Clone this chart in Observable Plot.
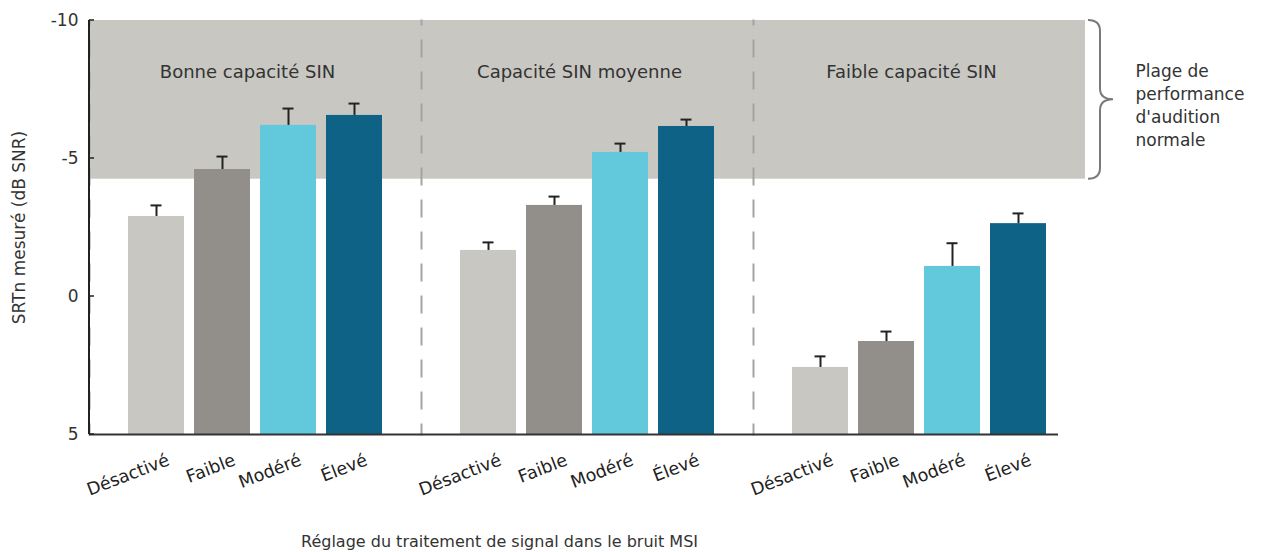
<!DOCTYPE html>
<html><head><meta charset="utf-8">
<script src="https://cdn.jsdelivr.net/npm/d3@7"></script>
<script src="https://cdn.jsdelivr.net/npm/@observablehq/plot@0.6"></script>
<style>body{margin:0;background:#fff}</style>
</head><body><div id="chart"></div>
<script>
const groups = ["Bonne capacité SIN", "Capacité SIN moyenne", "Faible capacité SIN"];
const settings = ["Désactivé", "Faible", "Modéré", "Élevé"];
const settingColors = ["#c8c7c2", "#928e8a", "#62c9dc", "#0e6285"];
const bonneValues = [-2.90, -4.60, -6.20, -6.56];
const bonneErrors = [0.40, 0.47, 0.61, 0.43];
const moyenneValues = [-1.67, -3.30, -5.22, -6.16];
const moyenneErrors = [0.29, 0.32, 0.32, 0.25];
const faibleValues = [2.57, 1.63, -1.09, -2.64];
const faibleErrors = [0.40, 0.36, 0.84, 0.37];
const normalBand = [-10, -4.25];
const yTicks = [-10, -5, 0, 5];
const yTitle = "SRTn mesuré (dB SNR)";
const xTitle = "Réglage du traitement de signal dans le bruit MSI";
const bandLabel = "Plage de\nperformance\nd'audition\nnormale";

const FONT = "'DejaVu Sans', sans-serif";
const allValues = [bonneValues, moyenneValues, faibleValues];
const allErrors = [bonneErrors, moyenneErrors, faibleErrors];
const data = [];
groups.forEach((g, gi) => settings.forEach((s, si) => data.push({group: g, setting: s, value: allValues[gi][si], err: allErrors[gi][si]})));

const chart = Plot.plot({
  width: 1263, height: 552,
  marginLeft: 89, marginRight: 178, marginTop: 20, marginBottom: 118,
  style: {fontFamily: FONT, fontSize: "15px", color: "#333", background: "#fff", overflow: "visible"},
  fx: {domain: groups, padding: 0, axis: null, label: null},
  x: {domain: settings, paddingInner: 0.15, paddingOuter: 0.59, label: null},
  y: {domain: [5, -10], label: null},
  color: {domain: settings, range: settingColors},
  marks: [
    Plot.rect([normalBand], {y1: d => d[0], y2: d => d[1], fill: "#c8c7c2"}),
    Plot.frame({anchor: "left", stroke: "#a4a4a4", strokeWidth: 2, strokeDasharray: "16,16", strokeDashoffset: 12}),
    Plot.barY(data, {fx: "group", x: "setting", y1: 5, y2: "value", fill: "setting"}),
    Plot.ruleX(data, {fx: "group", x: "setting", y1: "value", y2: d => d.value - d.err, stroke: "#222", strokeWidth: 2}),
    Plot.tickY(data, {fx: "group", x: "setting", y: d => d.value - d.err, stroke: "#222", strokeWidth: 2, insetLeft: 22.5, insetRight: 22.5}),
    Plot.ruleY(groups.slice(0, 2), {fx: d => d, y: () => 5, stroke: "#333", strokeWidth: 2}),
    Plot.ruleY(groups.slice(2), {fx: d => d, y: () => 5, stroke: "#333", strokeWidth: 2, insetRight: 27}),
    // y axis line with inward ticks (first facet only)
    Plot.ruleY(yTicks, {fx: () => groups[0], render: (index, scales, values, dims) => {
      const g = d3.create("svg:g").attr("stroke", "#222").attr("stroke-width", 2);
      const x = dims.marginLeft;
      g.append("line").attr("x1", x).attr("x2", x).attr("y1", dims.marginTop).attr("y2", dims.height - dims.marginBottom);
      for (const t of yTicks) g.append("line").attr("x1", x).attr("x2", x + 5).attr("y1", scales.y(t)).attr("y2", scales.y(t)).attr("stroke-width", 1.5);
      return g.node();
    }}),
    Plot.axisY({ticks: yTicks, tickFormat: d => String(d), tickSize: 0, tickPadding: 11, label: null, fontFamily: FONT, fontSize: 17, fill: "#333"}),
    Plot.axisX({tickRotate: -21, tickSize: 0, tickPadding: 0, textAnchor: "end", lineAnchor: "middle", dx: 12, dy: 25, fontFamily: FONT, fontSize: 17.5, fill: "#222", label: null}),
    Plot.text(groups, {fx: d => d, text: d => d, frameAnchor: "top", lineAnchor: "middle", dy: 52, dx: -8, fontSize: 18, fontFamily: FONT, fill: "#333"}),
    Plot.text([bandLabel], {fx: [groups[2]], y: [(normalBand[0] + normalBand[1]) / 2], text: d => d, frameAnchor: "right", textAnchor: "start", dx: 50, dy: 4, lineHeight: 1.35, fontSize: 17, fontFamily: FONT, fill: "#333"}),
    Plot.ruleY(normalBand, {fx: () => groups[2], render: (index, scales, values, dims) => {
      const top = scales.y(normalBand[0]), bot = scales.y(normalBand[1]), mid = (top + bot) / 2;
      const x0 = dims.width - dims.marginRight + 3, xv = x0 + 12, xt = x0 + 25, r = 11;
      const p = `M${x0},${top} Q${xv},${top} ${xv},${top + r} L${xv},${mid - r} Q${xv},${mid} ${xt},${mid} Q${xv},${mid} ${xv},${mid + r} L${xv},${bot - r} Q${xv},${bot} ${x0},${bot}`;
      return d3.create("svg:path").attr("d", p).attr("fill", "none").attr("stroke", "#7a7a7a").attr("stroke-width", 2).node();
    }}),
    Plot.text([yTitle], {facet: "super", text: d => d, frameAnchor: "left", textAnchor: "middle", lineAnchor: "middle", rotate: -90, dx: -70, fontSize: 17, fontFamily: FONT, fill: "#333"}),
    Plot.text([xTitle], {facet: "super", text: d => d, frameAnchor: "bottom", textAnchor: "middle", lineAnchor: "middle", dx: -88, dy: 107, fontSize: 16, fontFamily: FONT, fill: "#333"})
  ]
});
document.getElementById("chart").appendChild(chart);
</script>
</body></html>
